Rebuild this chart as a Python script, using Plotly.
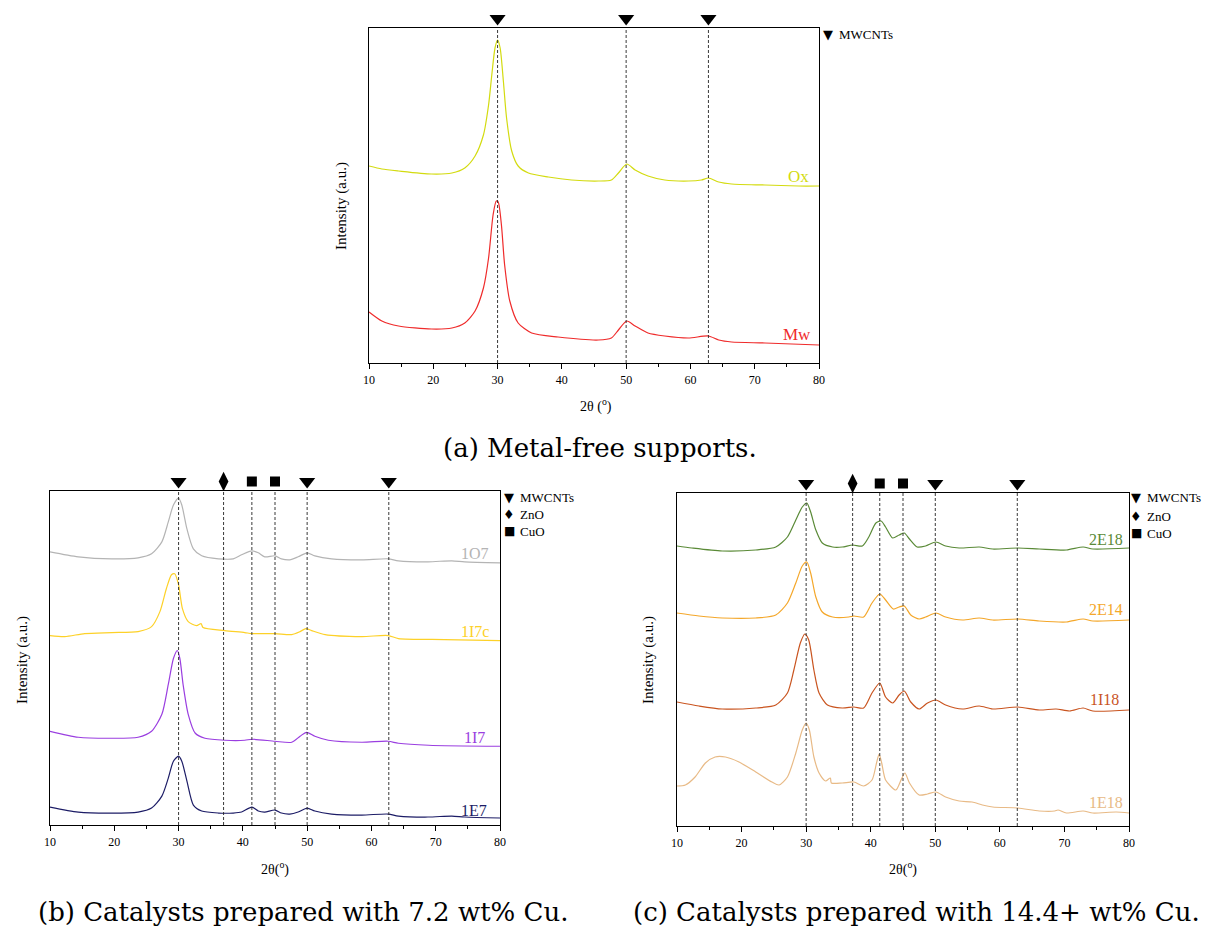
import plotly.graph_objects as go

# ---------------- DATA ----------------
# Panel (a): metal-free supports
a_x = [10, 12, 14.6, 19.7, 22.9, 24.9, 26.5, 27.8, 28.6, 29.1, 29.6, 30.0, 30.4, 30.9, 31.4, 32.2, 33.2, 34.8,
       37.9, 41.5, 45.7, 47.7, 48.8, 50.1, 51.4, 53.4, 56.0, 59.7, 61.7, 62.8, 64.4, 66.4, 71.6, 76.8, 80]
ox_y = [197, 194, 192, 189, 190, 195, 207, 228, 258, 288, 315, 323, 315, 282, 245, 212, 197, 190,
        186, 183, 182, 183, 190, 199, 193, 187, 183, 182, 183, 185, 181, 179, 178, 177, 177]

mw_x = [10, 12, 14.6, 19.7, 22.9, 24.9, 26.5, 27.8, 28.6, 29.3, 29.8, 30.1, 30.6, 31.1, 31.9, 33.2, 35.3,
        39.4, 45.7, 47.7, 48.8, 50.1, 51.4, 53.4, 56.0, 59.7, 62.8, 64.4, 66.4, 71.6, 80]
mw_y = [51, 42, 37, 34, 35, 40, 52, 75, 105, 148, 162, 161, 138, 98, 62, 40, 30,
        26, 23, 25, 33, 42, 37, 30, 27, 25, 27, 23, 21, 20, 18]

# Panel (b): 7.2 wt% Cu
b_x = [10, 14.4, 19.6, 23.7, 25.8, 27.4, 28.4, 29.2, 30.0, 30.5, 31.3, 32.3, 33.6, 36.2, 38.5, 39.8, 41.4,
       42.4, 43.4, 45.0, 46.0, 47.3, 48.6, 50.0, 51.2, 53.8, 58.5, 62.6, 64.2, 68.8, 72.5, 74.5, 80]
o107_y = [274, 269, 267, 268, 272, 284, 304, 321, 328, 321, 297, 277, 270, 267, 267, 271, 275,
          273, 269, 270, 267, 266, 269, 273, 270, 267, 266, 267, 265, 264, 265, 264, 263]
e1e7_y = [18, 13, 12, 13, 17, 29, 47, 64, 69, 64, 44, 20, 14, 12, 12, 13, 18,
          14, 13, 15, 12, 11, 13, 17, 14, 11, 10, 11, 9, 8, 9, 8, 7]

i17c_x = [10, 12.3, 15.4, 19.6, 23.7, 25.8, 27.1, 28.1, 28.9, 29.4, 30.0, 30.6, 31.5, 32.8, 33.5, 33.8,
          37.2, 40.3, 41.4, 45.0, 47.6, 48.9, 49.8, 50.7, 52.8, 58.5, 62.6, 64.2, 71.4, 80]
i17c_y = [190, 189, 192, 193, 194, 199, 214, 237, 251, 252, 241, 217, 204, 200, 202, 198,
          195, 193, 192, 192, 191, 194, 197, 195, 191, 189, 190, 187, 186, 185]

i17_x = [10, 14.4, 19.6, 23.7, 25.8, 27.4, 28.4, 29.2, 29.8, 30.2, 30.7, 31.5, 32.6, 34.1, 37.2, 40.3,
         41.4, 45.0, 47.6, 48.9, 49.9, 51.2, 53.3, 58.5, 62.6, 64.2, 68.9, 80]
i17_y = [94, 88, 87, 88, 94, 111, 141, 167, 175, 167, 141, 111, 92, 87, 85, 85,
         86, 84, 83, 89, 93, 89, 85, 83, 84, 82, 80, 79]

# Panel (c): 14.4+ wt% Cu
c_x = [10, 12.3, 17.0, 22.2, 25.3, 27.1, 28.4, 29.4, 30.1, 30.7, 31.5, 32.5, 34.1, 35.6, 37.2, 38.7,
       39.7, 40.8, 41.6, 42.3, 43.4, 44.4, 45.2, 46.0, 47.2, 48.5, 50.1, 51.6, 53.7, 56.8, 58.9, 62.8,
       66.1, 70.3, 72.9, 74.4, 80]
e2e18_y = [280, 278, 275, 276, 279, 289, 306, 319, 323, 314, 296, 283, 279, 279, 281, 280,
           289, 303, 305, 299, 288, 291, 293, 287, 279, 280, 284, 280, 278, 279, 277, 278,
           277, 276, 279, 277, 278]

e2e14_x = [10, 13.4, 17.0, 22.2, 25.3, 27.1, 28.4, 29.4, 30.1, 30.7, 31.5, 32.5, 34.1, 36.6, 37.4, 38.9,
           40.2, 41.4, 42.3, 43.5, 44.4, 45.2, 46.2, 47.5, 48.5, 50.1, 51.6, 54.2, 56.8, 58.9, 62.8,
           66.1, 70.3, 72.9, 74.4, 80]
e2e14_y = [213, 210, 208, 208, 211, 223, 243, 260, 264, 253, 229, 214, 209, 209, 210, 209,
           223, 232, 226, 217, 219, 220, 211, 207, 209, 213, 209, 206, 208, 206, 207,
           205, 204, 207, 205, 206]

i118_x = [10, 13.4, 17.0, 22.2, 25.3, 27.1, 28.1, 29.1, 29.8, 30.4, 31.2, 32.0, 33.3, 35.6, 37.4, 38.9,
          40.2, 41.4, 42.3, 43.4, 44.4, 45.2, 46.2, 47.5, 48.8, 50.1, 51.6, 54.2, 56.8, 58.9, 62.8,
          66.1, 68.7, 70.8, 72.9, 74.4, 80]
i118_y = [124, 120, 117, 118, 121, 133, 156, 183, 192, 186, 156, 133, 121, 118, 119, 118,
          133, 143, 129, 123, 131, 135, 124, 117, 123, 126, 121, 117, 120, 117, 119,
          116, 117, 115, 118, 115, 116]

e1e18_x = [10, 11.3, 12.8, 14.4, 15.9, 17.5, 19.6, 22.2, 24.7, 25.8, 27.1, 28.4, 29.4, 30.0, 30.5, 31.2,
           32.0, 33.0, 33.75, 33.9, 35.6, 37.4, 38.9, 40.2, 40.9, 41.3, 41.7, 42.3, 43.9, 44.7, 45.3,
           46.0, 47.5, 48.8, 50.1, 51.6, 53.7, 55.7, 57.3, 58.9, 62.8, 66.1, 68.5, 69.0, 70.3, 72.9,
           74.4, 78.0, 80]
e1e18_y = [40, 41, 49, 63, 69, 69, 64, 54, 44, 41, 49, 73, 96, 103, 96, 69,
           53, 45, 48, 43, 43, 44, 40, 46, 63, 72, 63, 46, 36, 46, 53,
           43, 31, 32, 34, 29, 25, 24, 21, 19, 18, 15, 15, 16, 13, 15,
           13, 14, 13]

# Reference peak positions
a_mwcnt = [30, 50, 62.8]
b_mwcnt = [30, 50, 62.7]
b_zno = [37.0]
b_cuo = [41.4, 45.0]
c_mwcnt = [30, 50, 62.7]
c_zno = [37.2]
c_cuo = [41.4, 45.0]

X_TICKS = [10, 20, 30, 40, 50, 60, 70, 80]

# ---------------- STYLE ----------------
SERIF = "Liberation Serif"
Y_TOP = {"a": 335, "b": 335, "c": 333}

fig = go.Figure()

def add_line(x, y, color, ax):
    fig.add_trace(go.Scatter(x=x, y=y, mode="lines", xaxis="x" + ax, yaxis="y" + ax,
                             line=dict(color=color, width=1.2, shape="spline", smoothing=0.7),
                             showlegend=False, hoverinfo="skip"))

def add_markers(xs, symbol, size, ax):
    # marker row lives on a hidden helper subplot just above the plot frame
    fig.add_trace(go.Scatter(x=xs, y=[0.5] * len(xs), mode="markers",
                             xaxis="x" + ax, yaxis="y" + ax, cliponaxis=False,
                             marker=dict(symbol=symbol, size=size, color="black", line=dict(width=0)),
                             showlegend=False, hoverinfo="skip"))

# panel a
add_line(a_x, ox_y, "#d3db0f", "")
add_line(mw_x, mw_y, "#ef2b2b", "")
# panel b
add_line(b_x, o107_y, "#b4b4b4", "2")
add_line(i17c_x, i17c_y, "#fdd128", "2")
add_line(i17_x, i17_y, "#9a3ee0", "2")
add_line(b_x, e1e7_y, "#1c1c66", "2")
# panel c
add_line(c_x, e2e18_y, "#5a8a37", "3")
add_line(e2e14_x, e2e14_y, "#f4a72a", "3")
add_line(i118_x, i118_y, "#c9541f", "3")
add_line(e1e18_x, e1e18_y, "#e8ba86", "3")

add_markers(a_mwcnt, "triangle-down", 14, "4")
add_markers(b_mwcnt, "triangle-down", 14, "5")
add_markers(b_zno, "diamond-tall", 14, "5")
add_markers(b_cuo, "square", 10, "5")
add_markers(c_mwcnt, "triangle-down", 14, "6")
add_markers(c_zno, "diamond-tall", 14, "6")
add_markers(c_cuo, "square", 10, "6")

shapes = []
def vlines(xs, ax):
    for xv in xs:
        shapes.append(dict(type="line", xref="x" + ax, yref="y" + ax + " domain",
                           x0=xv, x1=xv, y0=0, y1=1,
                           line=dict(color="#222222", width=0.9, dash="3px,2px")))
vlines(a_mwcnt, "")
vlines(b_mwcnt + b_zno + b_cuo, "2")
vlines(c_mwcnt + c_zno + c_cuo, "3")

def xaxis(domain, anchor):
    return dict(domain=domain, anchor=anchor, range=[10, 80], showline=True, mirror=True,
                linecolor="black", linewidth=1.3, ticks="outside", ticklen=5, tickwidth=1,
                tickcolor="black", tickvals=X_TICKS, showgrid=False, zeroline=False,
                automargin=False,
                minor=dict(dtick=5, tick0=10, ticks="outside", ticklen=3, tickcolor="black"),
                tickfont=dict(family=SERIF, size=12, color="black"))

def yaxis(domain, anchor, top):
    return dict(domain=domain, anchor=anchor, range=[0, top], showline=True, mirror=True,
                linecolor="black", linewidth=1.3, ticks="", showticklabels=False,
                showgrid=False, zeroline=False, automargin=False)

def helper_x(domain, anchor):
    return dict(domain=domain, anchor=anchor, range=[10, 80], visible=False,
                showgrid=False, zeroline=False, automargin=False)

def helper_y(domain, anchor):
    return dict(domain=domain, anchor=anchor, range=[0, 1], visible=False,
                showgrid=False, zeroline=False, automargin=False)

W, H = 1205, 927
def px(v): return v / W
def py(v): return 1 - v / H

annotations = []
def text(x, y, t, size, color="black", family=SERIF, xanchor="center", angle=0):
    annotations.append(dict(x=px(x), y=py(y), xref="paper", yref="paper", text=t, showarrow=False,
                            xanchor=xanchor, yanchor="middle", textangle=angle,
                            font=dict(family=family, size=size, color=color)))

# curve labels
text(811, 176, "Ox", 17, "#d3db0f", xanchor="right")
text(813, 334, "Mw", 17, "#ef2b2b", xanchor="right")
text(491, 553, "1O7", 16, "#b4b4b4", xanchor="right")
text(491, 631, "1I7c", 16, "#fdd128", xanchor="right")
text(487, 737, "1I7", 16, "#9a3ee0", xanchor="right")
text(489, 810, "1E7", 16, "#1c1c66", xanchor="right")
text(1125, 539, "2E18", 16, "#5a8a37", xanchor="right")
text(1125, 609, "2E14", 16, "#f4a72a", xanchor="right")
text(1121, 699, "1I18", 16, "#c9541f", xanchor="right")
text(1125, 802, "1E18", 16, "#e8ba86", xanchor="right")

# legends
def legend(x, ys, items):
    for yv, (sym, lab, sz) in zip(ys, items):
        text(x + 6, yv, sym, sz, family="DejaVu Sans")
        text(x + 15, yv, lab, 13, xanchor="left")

legend(822, [35], [("▼", "MWCNTs", 13)])
legend(503, [497, 514, 531], [("▼", "MWCNTs", 13), ("♦", "ZnO", 13), ("■", "CuO", 12)])
legend(1130, [498, 516, 533], [("▼", "MWCNTs", 13), ("♦", "ZnO", 13), ("■", "CuO", 12)])

# axis titles
text(596, 405, "2θ (<sup>o</sup>)", 14)
text(275, 868, "2θ(<sup>o</sup>)", 14)
text(903, 868, "2θ(<sup>o</sup>)", 14)
text(341, 206, "Intensity (a.u.)", 15, angle=-90)
text(22, 660, "Intensity (a.u.)", 15, angle=-90)
text(648, 660, "Intensity (a.u.)", 15, angle=-90)

# captions
CAP = "DejaVu Serif"
text(600, 448, "(a) Metal-free supports.", 26, family=CAP)
text(303, 912, "(b) Catalysts prepared with 7.2 wt% Cu.", 26, family=CAP)
text(916, 912, "(c) Catalysts prepared with 14.4+ wt% Cu.", 26, family=CAP)

fig.update_layout(
    width=W, height=H, margin=dict(l=0, r=0, t=0, b=0, autoexpand=False),
    paper_bgcolor="white", plot_bgcolor="white", showlegend=False,
    xaxis=xaxis([px(369), px(819)], "y"),
    yaxis=yaxis([py(363), py(28)], "x", Y_TOP["a"]),
    xaxis2=xaxis([px(50), px(500)], "y2"),
    yaxis2=yaxis([py(825), py(491)], "x2", Y_TOP["b"]),
    xaxis3=xaxis([px(677), px(1129)], "y3"),
    yaxis3=yaxis([py(826), py(493)], "x3", Y_TOP["c"]),
    xaxis4=helper_x([px(369), px(819)], "y4"),
    yaxis4=helper_y([py(27), py(10)], "x4"),
    xaxis5=helper_x([px(50), px(500)], "y5"),
    yaxis5=helper_y([py(490), py(473)], "x5"),
    xaxis6=helper_x([px(677), px(1129)], "y6"),
    yaxis6=helper_y([py(492), py(475)], "x6"),
    shapes=shapes, annotations=annotations,
)

fig.write_html("out.html")
